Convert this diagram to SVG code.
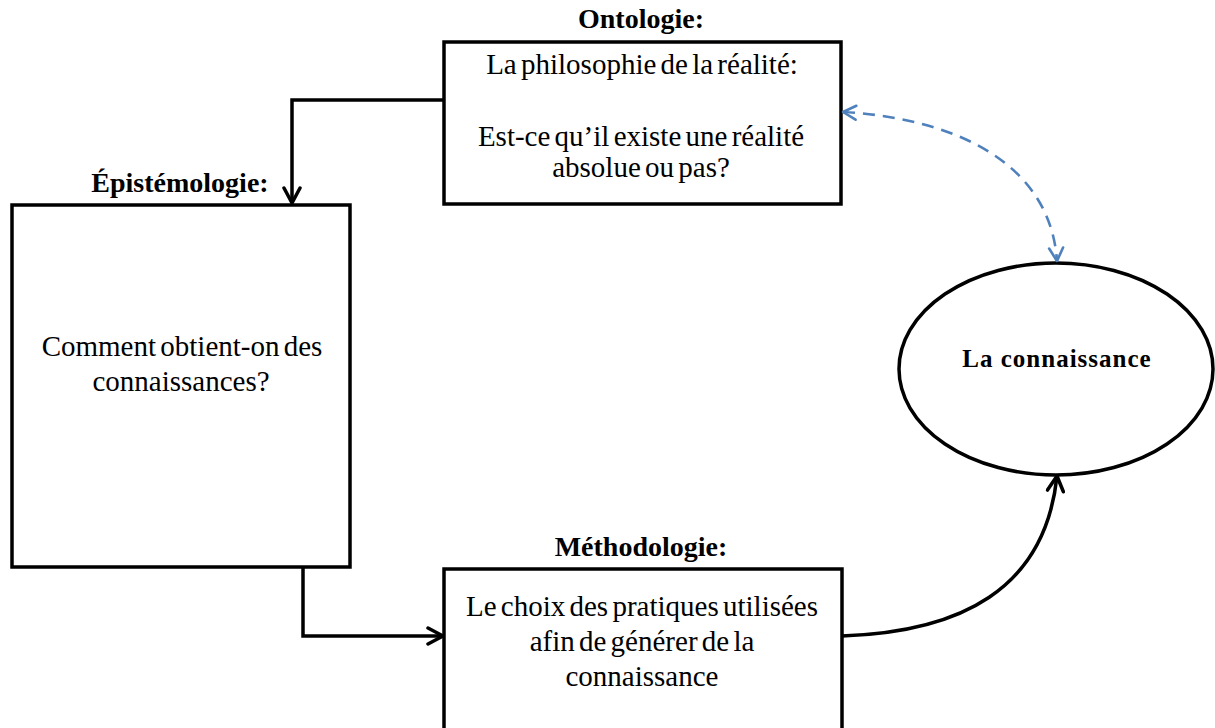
<svg xmlns="http://www.w3.org/2000/svg" width="1215" height="728" viewBox="0 0 1215 728">
<style>
.box{fill:#fff;stroke:#000;stroke-width:3.5}
.t{font-family:"Liberation Serif","Times New Roman",serif;font-size:29px;fill:#000;text-anchor:middle;word-spacing:-3px}
.b{font-family:"Liberation Serif","Times New Roman",serif;font-size:28px;font-weight:bold;fill:#000;text-anchor:middle}
.c{fill:none;stroke:#000;stroke-width:3.5}
.d{fill:none;stroke:#4F81BD;stroke-width:2.6;stroke-dasharray:12 8}
</style>
<defs>
<marker id="ah" viewBox="0 0 20 20" refX="18" refY="10" markerWidth="20" markerHeight="20" markerUnits="userSpaceOnUse" orient="auto">
<path d="M3,2 L18,10 L3,18" fill="none" stroke="#000" stroke-width="3.5" stroke-linecap="round" stroke-linejoin="round"/>
</marker>
<marker id="ahb" viewBox="0 0 20 20" refX="18" refY="10" markerWidth="20" markerHeight="20" markerUnits="userSpaceOnUse" orient="auto-start-reverse">
<path d="M5,3 L18,10 L5,17" fill="none" stroke="#4F81BD" stroke-width="2.6" stroke-linecap="round" stroke-linejoin="round"/>
</marker>
</defs>
<rect width="1215" height="728" fill="#fff"/>
<g id="ontologie">
<text class="b" x="641" y="28">Ontologie:</text>
<rect class="box" x="444" y="42" width="397" height="162"/>
<text class="t" x="642" y="74">La philosophie de la réalité:</text>
<text class="t" x="641" y="146">Est-ce qu’il existe une réalité</text>
<text class="t" x="641" y="177">absolue ou pas?</text>
</g>
<g id="epistemologie">
<text class="b" x="180" y="192">Épistémologie:</text>
<rect class="box" x="12" y="205" width="338" height="362"/>
<text class="t" x="182" y="356">Comment obtient-on des</text>
<text class="t" x="181" y="391">connaissances?</text>
</g>
<g id="methodologie">
<text class="b" x="641" y="556">Méthodologie:</text>
<rect class="box" x="444" y="569" width="398" height="170"/>
<text class="t" x="642" y="616">Le choix des pratiques utilisées</text>
<text class="t" x="642" y="651">afin de générer de la</text>
<text class="t" x="642" y="686">connaissance</text>
</g>
<g id="connaissance">
<ellipse class="box" cx="1056" cy="369" rx="157" ry="106"/>
<text class="b" x="1057" y="367" style="font-size:25px;letter-spacing:1px">La connaissance</text>
</g>
<g id="connectors">
<path class="c" d="M444,100 H292 V203" marker-end="url(#ah)"/>
<path class="c" d="M303,567 V636 H443" marker-end="url(#ah)"/>
<path class="c" d="M842,636 C960,632 1045,590 1057,476" marker-end="url(#ah)"/>
<path class="d" d="M843,112 C950,118 1050,160 1057,261" marker-start="url(#ahb)" marker-end="url(#ahb)"/>
</g>
</svg>
